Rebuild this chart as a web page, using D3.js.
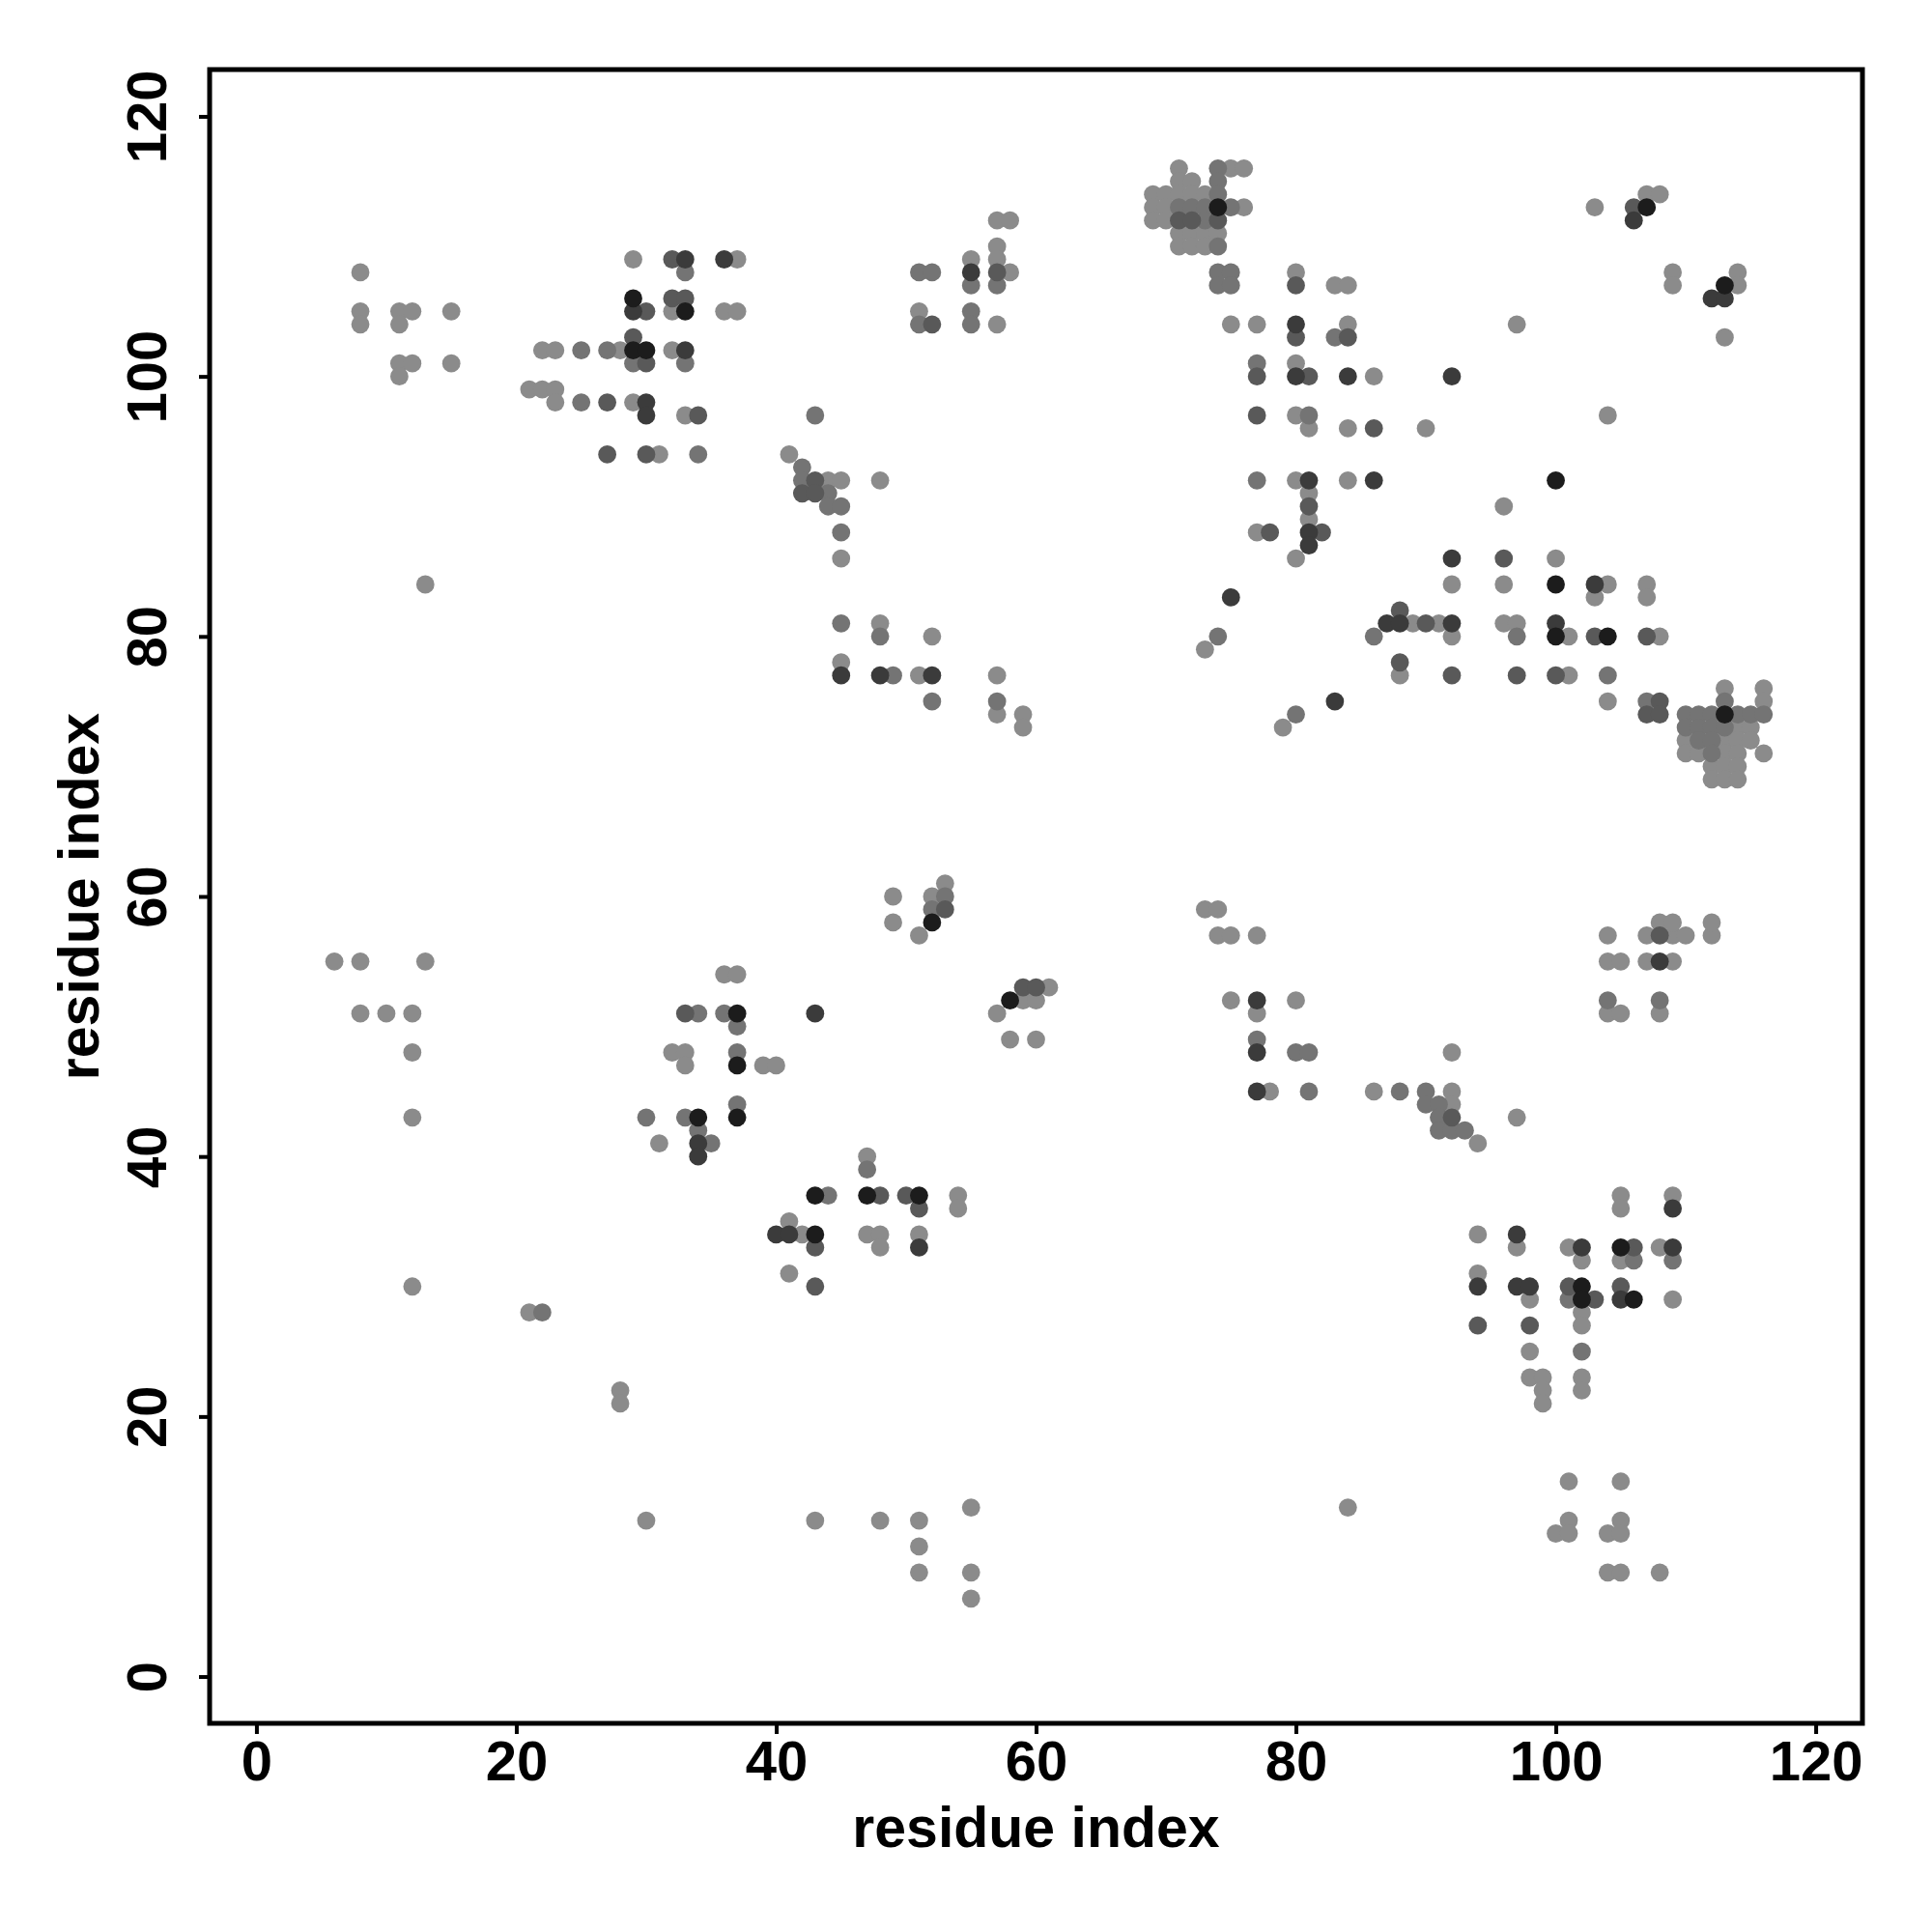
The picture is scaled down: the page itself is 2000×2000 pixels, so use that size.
<!DOCTYPE html>
<html>
<head>
<meta charset="utf-8">
<script src="https://cdn.jsdelivr.net/npm/d3@7/dist/d3.min.js"></script>
<style>
  html, body { margin: 0; padding: 0; background: #ffffff; }
  svg { display: block; }
</style>
</head>
<body>
<script>
// ---- Data: [residue i, residue j, shade level 1 (light) .. 5 (dark)] ----
const clusterTopLeft = [
  [8,108,1],[8,105,1],[8,104,1],[11,105,1],[12,105,1],[11,104,1],[15,105,1],
  [11,101,1],[12,101,1],[11,100,1],[15,101,1],[13,84,1],
  [21,99,1],[22,99,1],[23,99,1],[23,98,1],[25,98,2],[27,98,3],
  [22,102,1],[23,102,1],[25,102,2],[27,102,2],[28,102,1],[27,94,3]
];
const clusterThirty = [
  [29,109,1],[32,109,3],[33,109,4],[33,108,2],[36,109,4],[37,109,1],
  [29,106,5],[29,105,4],[30,105,3],[32,106,3],[33,106,3],[32,105,1],[33,105,5],[36,105,1],[37,105,1],
  [29,103,3],[29,102,5],[30,102,5],[29,101,2],[30,101,3],[32,102,1],[33,102,4],[33,101,2],
  [29,98,1],[30,98,4],[30,97,4],[33,97,1],[34,97,3],[30,94,3],[31,94,1],[34,94,2]
];
const clusterTopMiddle = [
  [57,112,1],[58,112,1],[57,110,1],[57,109,1],[57,108,3],[58,108,1],[57,107,2],
  [55,109,1],[55,108,4],[55,107,2],[51,108,2],[52,108,2],[51,105,1],[51,104,2],[52,104,3],
  [55,105,2],[55,104,2],[57,104,1]
];
const clusterFortyFive = [
  [43,97,2],[41,94,1],[42,93,2],[42,92,2],[43,92,3],[44,92,1],[45,92,1],[48,92,1],
  [42,91,3],[43,91,3],[44,91,2],[44,90,2],[45,90,2],[45,88,2],[45,86,1],
  [45,81,2],[48,81,1],[48,80,2],[52,80,1],[45,78,1],[45,77,4],[48,77,4],[49,77,2],[51,77,1],
  [52,77,4],[57,77,1],[52,75,2],[57,75,2],[57,74,1],[59,74,1],[59,73,1]
];
const clusterSeventy = [
  [71,116,1],[74,116,2],[75,116,1],[76,116,1],
  [71,115,1],[72,115,1],[74,115,2],
  [69,114,1],[70,114,1],[71,114,1],[72,114,1],[73,114,1],[74,114,2],
  [69,113,1],[70,113,1],[71,113,2],[72,113,2],[73,113,2],[74,113,5],[75,113,2],[76,113,1],
  [69,112,1],[70,112,1],[71,112,3],[72,112,3],[73,112,2],[74,112,3],
  [71,111,1],[72,111,1],[73,111,1],[74,111,1],
  [71,110,1],[72,110,1],[73,110,1],[74,110,2],
  [74,108,2],[75,108,2],[74,107,2],[75,107,2]
];
const clusterEighty = [
  [80,108,1],[80,107,3],[83,107,1],[84,107,1],
  [75,104,1],[77,104,1],[80,104,4],[80,103,3],[84,104,1],[83,103,2],[84,103,3],
  [77,101,2],[77,100,3],[80,101,1],[80,100,4],[81,100,3],[84,100,4],[86,100,1],[92,100,4],
  [77,97,3],[80,97,1],[81,97,2],[81,96,1],[84,96,1],[86,96,3],[90,96,1],
  [77,92,2],[80,92,1],[81,92,4],[84,92,1],[86,92,4],
  [81,91,1],[81,90,3],[81,89,1],[81,88,4],[82,88,3],[81,87,4],[77,88,1],[78,88,3],[80,86,1],
  [92,86,4],[92,84,1],[75,83,4],[74,80,2],[73,79,1],
  [88,82,3],[87,81,4],[88,81,4],[89,81,1],[90,81,3],[91,81,1],[92,81,4],
  [86,80,2],[92,80,1],[88,78,3],[88,77,1],[92,77,3],[83,75,4],[80,74,2],[79,73,1]
];
const clusterTopRight = [
  [103,113,1],[107,114,1],[108,114,1],[106,113,3],[107,113,5],[106,112,4],
  [109,108,1],[109,107,1],[113,107,5],[112,106,4],[113,106,4],[114,108,1],[114,107,1],[113,103,1],
  [97,104,1],[104,97,1],[100,92,5],[96,90,1],
  [96,86,3],[100,86,1],
  [96,84,1],[100,84,5],[103,84,4],[104,84,1],[107,84,1],[103,83,1],[107,83,1],
  [96,81,1],[97,81,1],[100,81,4],
  [97,80,2],[100,80,5],[101,80,1],[103,80,3],[104,80,5],[107,80,3],[108,80,1],
  [97,77,3],[100,77,3],[101,77,1],[104,77,2],
  [104,75,1],[107,75,2],[108,75,3],[107,74,3],[108,74,3]
];
const clusterDiagonalEnd = [
  [113,76,1],[116,76,1],[113,75,2],[116,75,1],
  [110,74,2],[111,74,2],[112,74,2],[113,74,5],[114,74,2],[115,74,2],[116,74,2],
  [110,73,2],[111,73,2],[112,73,2],[113,73,2],[114,73,1],[115,73,1],
  [110,72,1],[111,72,2],[112,72,2],[113,72,1],[114,72,1],[115,72,1],
  [110,71,1],[111,71,1],[112,71,2],[113,71,1],[114,71,1],[116,71,1],
  [112,70,1],[113,70,1],[114,70,1],[112,69,1],[113,69,1],[114,69,1]
];
const clusterMidLeft = [
  [6,55,1],[8,55,1],[13,55,1],[8,51,1],[10,51,1],[12,51,1],[12,48,1],[12,43,1],[12,30,1],
  [21,28,1],[22,28,2],
  [36,54,1],[37,54,1],[33,51,3],[34,51,2],[36,51,2],[37,51,5],[37,50,2],
  [32,48,1],[33,48,1],[33,47,1],[37,48,2],[37,47,5],[39,47,1],[40,47,1],
  [37,44,2],[37,43,5],[30,43,2],[33,43,2],[34,43,5],[34,42,2],[34,41,4],[35,41,2],[34,40,4],[31,41,1],
  [43,51,4]
];
const clusterMidCentre = [
  [49,60,1],[49,58,1],[53,61,1],[52,60,1],[53,60,2],[52,59,2],[53,59,3],[52,58,5],[51,57,1],
  [58,52,5],[59,53,3],[60,53,3],[61,53,1],[59,52,1],[60,52,1],[57,51,1],[58,49,1],[60,49,1],
  [47,40,1],[47,39,2],
  [43,37,5],[44,37,2],[47,37,5],[48,37,3],[50,37,3],[51,37,5],[51,36,3],[54,37,1],[54,36,1],
  [41,35,1],[40,34,4],[41,34,4],[42,34,1],[43,34,5],[43,33,3],[47,34,1],[48,34,1],[48,33,1],
  [51,34,1],[51,33,4],[41,31,1],[43,30,3]
];
const clusterMidRight = [
  [73,59,1],[74,59,1],[74,57,1],[75,57,1],[77,57,1],
  [75,52,1],[77,52,4],[80,52,1],[77,51,1],[77,49,2],[77,48,4],[80,48,2],[81,48,2],[92,48,1],
  [77,45,4],[78,45,1],[81,45,2],[86,45,1],[88,45,2],[90,45,2],[92,45,1],
  [90,44,2],[91,44,2],[92,44,1],[91,43,2],[92,43,3],[91,42,2],[92,42,2],[93,42,2],[94,41,1],[97,43,1],
  [104,57,1],[107,57,1],[108,57,3],[109,57,1],[110,57,1],[112,57,1],[108,58,1],[109,58,1],[112,58,1],
  [104,55,1],[105,55,1],[107,55,1],[108,55,4],[109,55,1],
  [104,52,2],[108,52,2],[104,51,1],[105,51,1],[108,51,1]
];
const clusterLowRight = [
  [109,37,1],[109,36,4],[105,37,1],[105,36,1],
  [94,34,1],[97,34,4],[97,33,1],
  [101,33,1],[102,33,4],[105,33,5],[106,33,3],[108,33,1],[109,33,4],
  [102,32,1],[105,32,1],[106,32,2],[109,32,2],[94,31,1],
  [94,30,4],[97,30,4],[98,30,4],[101,30,3],[102,30,5],[105,30,3],
  [98,29,1],[101,29,2],[102,29,5],[103,29,3],[105,29,4],[106,29,5],[109,29,1],
  [102,28,1],[94,27,3],[98,27,3],[102,27,1],[98,25,1],[102,25,2],
  [98,23,1],[99,23,1],[102,23,1],[99,22,1],[102,22,1],[99,21,1]
];
const clusterBottom = [
  [28,22,1],[28,21,1],[30,12,1],[43,12,1],[48,12,1],[51,12,1],[51,10,1],[51,8,1],
  [55,13,1],[55,8,1],[55,6,1],[84,13,1],
  [101,15,1],[101,12,1],[100,11,1],[101,11,1],[105,15,1],[105,12,1],[104,11,1],[105,11,1],
  [104,8,1],[105,8,1],[108,8,1]
];
const tickValues = [0, 20, 40, 60, 80, 100, 120];
const xTitle = "residue index";
const yTitle = "residue index";

// ---- Drawing ----
const W = 2000, H = 2000;
const plot = { left: 217, right: 1928, top: 72, bottom: 1784 };
const shadeColors = ["#8b8b8b", "#747474", "#595959", "#3b3b3b", "#1c1c1c"];

const points = [].concat(clusterTopLeft, clusterThirty, clusterTopMiddle, clusterFortyFive,
  clusterSeventy, clusterEighty, clusterTopRight, clusterDiagonalEnd, clusterMidLeft,
  clusterMidCentre, clusterMidRight, clusterLowRight, clusterBottom)
  .map(d => ({ i: d[0], j: d[1], s: d[2] }))
  .sort((a, b) => a.s - b.s);

const x = d3.scaleLinear().domain([-3.6, 123.6]).range([plot.left, plot.right]);
const y = d3.scaleLinear().domain([-3.6, 123.6]).range([plot.bottom, plot.top]);

const svg = d3.select("body").append("svg")
  .attr("width", W).attr("height", H)
  .attr("viewBox", `0 0 ${W} ${H}`);
svg.append("rect").attr("width", W).attr("height", H).attr("fill", "#ffffff");

const font = "'Liberation Sans', Arial, Helvetica, sans-serif";

svg.append("g").selectAll("circle").data(points).join("circle")
  .attr("cx", d => x(d.i))
  .attr("cy", d => y(d.j))
  .attr("r", 9.4)
  .attr("fill", d => shadeColors[d.s - 1]);

// box
svg.append("rect")
  .attr("x", plot.left).attr("y", plot.top)
  .attr("width", plot.right - plot.left).attr("height", plot.bottom - plot.top)
  .attr("fill", "none").attr("stroke", "#000").attr("stroke-width", 5);

// x axis
const gx = svg.append("g").attr("transform", `translate(0,${plot.bottom})`)
  .call(d3.axisBottom(x).tickValues(tickValues).tickSize(11).tickFormat(d3.format("d")));
gx.select(".domain").remove();
gx.selectAll(".tick line").attr("stroke", "#000").attr("stroke-width", 4);
gx.selectAll(".tick text")
  .attr("y", 59).attr("dy", 0)
  .attr("font-family", font).attr("font-weight", "bold").attr("font-size", 58)
  .attr("fill", "#000");

// y axis
const gy = svg.append("g").attr("transform", `translate(${plot.left},0)`)
  .call(d3.axisLeft(y).tickValues(tickValues).tickSize(11).tickFormat(d3.format("d")));
gy.select(".domain").remove();
gy.selectAll(".tick line").attr("stroke", "#000").attr("stroke-width", 4);
gy.selectAll(".tick text")
  .attr("x", null).attr("dy", null)
  .attr("transform", "translate(-45,0) rotate(-90)")
  .attr("text-anchor", "middle")
  .attr("font-family", font).attr("font-weight", "bold").attr("font-size", 58)
  .attr("fill", "#000");

// titles
svg.append("text")
  .attr("x", (plot.left + plot.right) / 2).attr("y", 1912)
  .attr("text-anchor", "middle")
  .attr("font-family", font).attr("font-weight", "bold").attr("font-size", 59)
  .text(xTitle);
svg.append("text")
  .attr("transform", `translate(102,${(plot.top + plot.bottom) / 2}) rotate(-90)`)
  .attr("text-anchor", "middle")
  .attr("font-family", font).attr("font-weight", "bold").attr("font-size", 59)
  .text(yTitle);
</script>
</body>
</html>
